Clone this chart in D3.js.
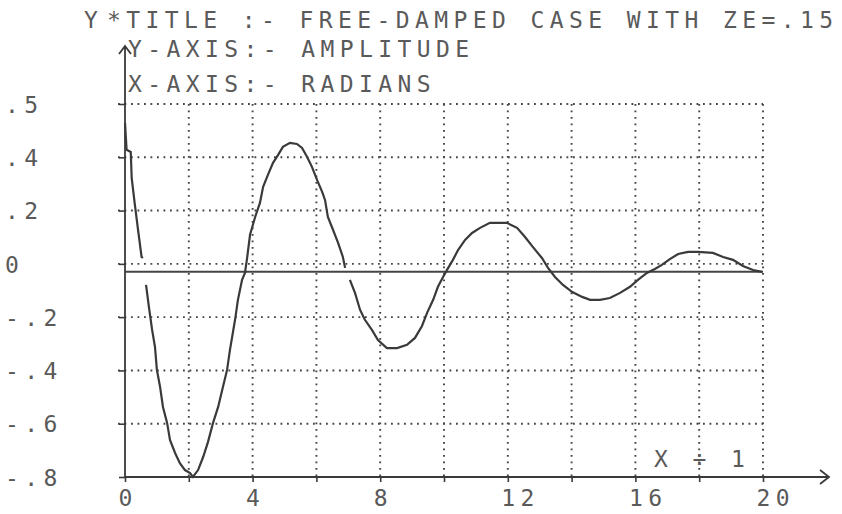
<!DOCTYPE html>
<html>
<head>
<meta charset="utf-8">
<script src="https://cdn.jsdelivr.net/npm/d3@7"></script>
<style>
body { margin: 0; background: #fff; }
svg text { font-family: "DejaVu Sans Mono", monospace; font-size: 23px; letter-spacing: 5.4px; fill: #5a5a5a; }
</style>
</head>
<body>
<script>
// values (null = gap where the plotter skipped)
const radians = [0, 0.05, 0.18, 0.21, 0.31, 0.41, 0.52, 0.56, 0.6,
  0.66, 0.75, 0.85, 0.94, 1.00, 1.10, 1.19, 1.32, 1.41, 1.57, 1.72, 1.88, 2.04, 2.13,
  2.29, 2.45, 2.60, 2.76, 2.92, 3.07, 3.20, 3.29, 3.45, 3.54, 3.67, 3.76, 3.82, 3.92,
  4.08, 4.23, 4.33, 4.48, 4.64, 4.80, 4.95, 5.17, 5.39, 5.55, 5.71, 5.86, 6.02, 6.18,
  6.27, 6.36, 6.52, 6.68, 6.83, 6.90, 6.97,
  7.05, 7.21, 7.37, 7.52, 7.74, 7.93, 8.21, 8.53, 8.84, 9.09, 9.31, 9.47, 9.66, 9.81,
  9.97, 10.13, 10.28, 10.44, 10.66, 10.88, 11.13, 11.44, 11.76, 11.97, 12.29, 12.54,
  12.79, 13.07, 13.26, 13.48, 13.73, 14.01, 14.33, 14.58, 14.89, 15.20, 15.52, 15.83,
  16.08, 16.36, 16.61, 16.83, 17.08, 17.34, 17.65, 17.96, 18.43, 18.75, 19.06, 19.37,
  19.69, 19.97];
const amplitude = [0.529, 0.428, 0.42, 0.322, 0.221, 0.127, 0.026, 0.022, null,
  -0.079, -0.162, -0.248, -0.312, -0.398, -0.462, -0.537, -0.597, -0.661, -0.710, -0.748, -0.774, -0.785, -0.80,
  -0.774, -0.725, -0.669, -0.597, -0.537, -0.462, -0.398, -0.323, -0.210, -0.135, -0.060, -0.034, 0.015, 0.109,
  0.176, 0.229, 0.289, 0.334, 0.379, 0.409, 0.439, 0.454, 0.450, 0.435, 0.401, 0.364, 0.315, 0.270,
  0.240, 0.176, 0.128, 0.079, 0.026, -0.015, null,
  -0.060, -0.109, -0.173, -0.210, -0.248, -0.286, -0.316, -0.316, -0.304, -0.278, -0.233, -0.184, -0.135, -0.086,
  -0.049, -0.015, 0.015, 0.052, 0.090, 0.116, 0.135, 0.154, 0.154, 0.154, 0.135, 0.101,
  0.063, 0.022, -0.015, -0.049, -0.079, -0.105, -0.124, -0.135, -0.135, -0.128, -0.109, -0.086,
  -0.060, -0.034, -0.019, -0.004, 0.018, 0.037, 0.045, 0.045, 0.041, 0.026, 0.015, -0.008,
  -0.023, -0.030];

const yTickValues = [0.6, 0.4, 0.2, 0, -0.2, -0.4, -0.6, -0.8];
const yTickLabels = [".5", ".4", ".2", "0", "-.2", "-.4", "-.6", "-.8"];
const xTickMarks = [0, 2, 4, 6, 8, 10, 12, 14, 16, 18, 20];
const xTickLabels = [0, 4, 8, 12, 16, 20];
const baseline = -0.03;
const titleLines = ["*TITLE :- FREE-DAMPED CASE WITH ZE=.15", "Y-AXIS:- AMPLITUDE", "X-AXIS:- RADIANS"];

var width = 842, height = 514;
var ink = "#3a3a3a";

var svg = d3.select("body").append("svg")
  .attr("width", width)
  .attr("height", height);

var x = d3.scaleLinear().domain([0, 20]).range([125, 763]);
var y = d3.scaleLinear().domain([-0.8, 0.6]).range([477, 104]);

// dotted grid
svg.append("g").selectAll("line")
  .data(yTickValues.slice(0, -1))
  .join("line")
  .attr("x1", x(0) - 7).attr("x2", x(20))
  .attr("y1", d => y(d)).attr("y2", d => y(d))
  .attr("stroke", "#444").attr("stroke-width", 1.9)
  .attr("stroke-dasharray", "1.8,4.7");

svg.append("g").selectAll("line")
  .data(xTickMarks.slice(1))
  .join("line")
  .attr("x1", d => x(d)).attr("x2", d => x(d))
  .attr("y1", y(0.6)).attr("y2", y(-0.8))
  .attr("stroke", "#444").attr("stroke-width", 1.9)
  .attr("stroke-dasharray", "1.8,4.7");

// y axis
var yAxis = svg.append("g")
  .attr("transform", "translate(" + x(0) + ",0)")
  .call(d3.axisLeft(y).tickValues(yTickValues).tickSize(6).tickFormat((d, i) => yTickLabels[i]));
yAxis.select(".domain").remove();
yAxis.selectAll(".tick line").attr("stroke", ink).attr("stroke-width", 1.6);
yAxis.selectAll(".tick text")
  .attr("x", 5 - x(0))
  .attr("dy", "0.36em")
  .attr("text-anchor", "start")
  .attr("font-family", null).attr("font-size", null);

// x axis
var xAxis = svg.append("g")
  .attr("transform", "translate(0," + y(-0.8) + ")")
  .call(d3.axisBottom(x).tickValues(xTickMarks).tickSize(5)
    .tickFormat(d => xTickLabels.includes(d) ? d : ""));
xAxis.select(".domain").remove();
xAxis.selectAll(".tick line").attr("stroke", ink).attr("stroke-width", 1.6);
xAxis.selectAll(".tick text")
  .attr("x", -7)
  .attr("y", 29)
  .attr("dy", 0)
  .attr("text-anchor", "start")
  .attr("font-family", null).attr("font-size", null);

// axis lines with arrows
var xEnd = x(20) + 66;
var yTop = y(0.6) - 58;
svg.append("path")
  .attr("d", "M" + x(0) + "," + y(-0.8) + "H" + xEnd +
    "M" + (xEnd - 9) + "," + (y(-0.8) - 7) + "L" + xEnd + "," + y(-0.8) + "L" + (xEnd - 9) + "," + (y(-0.8) + 7))
  .attr("fill", "none").attr("stroke", ink).attr("stroke-width", 1.8);
svg.append("path")
  .attr("d", "M" + x(0) + "," + y(-0.8) + "V" + yTop +
    "M" + (x(0) - 6) + "," + (yTop + 8) + "L" + x(0) + "," + yTop + "L" + (x(0) + 6) + "," + (yTop + 8))
  .attr("fill", "none").attr("stroke", ink).attr("stroke-width", 1.8);

// solid reference line
svg.append("line")
  .attr("x1", x(0)).attr("x2", x(20))
  .attr("y1", y(baseline)).attr("y2", y(baseline))
  .attr("stroke", "#444").attr("stroke-width", 2);

// the response curve
var points = radians.map((r, i) => [r, amplitude[i]]);
svg.append("path")
  .datum(points)
  .attr("fill", "none")
  .attr("stroke", ink)
  .attr("stroke-width", 2.2)
  .attr("d", d3.line().defined(d => d[1] != null).x(d => x(d[0])).y(d => y(d[1])));

// header text
svg.append("text").attr("x", 84).attr("y", 28).text("Y");
svg.selectAll(".head")
  .data(titleLines)
  .join("text")
  .attr("class", "head")
  .attr("x", (d, i) => i == 0 ? 107 : 128)
  .attr("y", (d, i) => [28, 57, 92][i])
  .text(d => d);

svg.append("text").attr("x", 654).attr("y", 467).text("X ÷ 1");
</script>
</body>
</html>
